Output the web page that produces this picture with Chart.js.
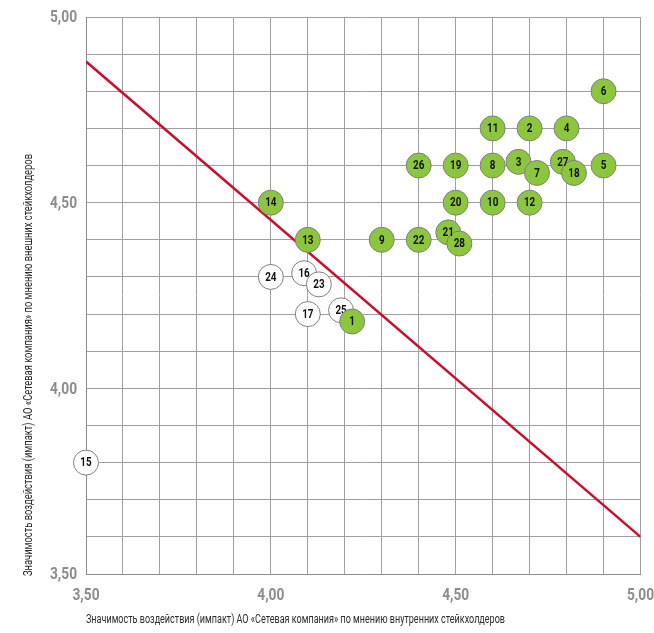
<!DOCTYPE html>
<html>
<head>
<meta charset="utf-8">
<script src="https://cdn.jsdelivr.net/npm/chart.js@4/dist/chart.umd.min.js"></script>
<style>
html,body{margin:0;padding:0;background:#fff;overflow:hidden;}
#wrap{position:relative;width:654px;height:633px;}
</style>
</head>
<body>
<div id="wrap"><canvas id="c"></canvas></div>
<script>
// Green (high impact) stakeholder points, in drawing order
const greenLabels = ['1','2','3','4','5','6','7','8','9','10','11','12','13','14','27','18','19','20','21','22','26','28'];
const greenX = [4.22,4.70,4.67,4.80,4.90,4.90,4.72,4.60,4.30,4.60,4.60,4.70,4.10,4.00,4.79,4.82,4.50,4.50,4.48,4.40,4.40,4.51];
const greenY = [4.18,4.70,4.61,4.70,4.60,4.80,4.58,4.60,4.40,4.50,4.70,4.50,4.40,4.50,4.61,4.58,4.60,4.50,4.42,4.40,4.60,4.39];
// White (below threshold) points
const whiteLabels = ['24','15','17','16','23','25'];
const whiteX = [4.00,3.50,4.10,4.09,4.13,4.19];
const whiteY = [4.30,3.80,4.20,4.31,4.28,4.21];
// Threshold line endpoints
const lineX = [3.50,5.00];
const lineY = [4.88,3.60];
// Axis
const axisMin = 3.5, axisMax = 5.0, gridStep = 0.1;
const xTitle = 'Значимость воздействия (импакт) АО «Сетевая компания» по мнению внутренних стейкхолдеров';
const yTitle = 'Значимость воздействия (импакт) АО «Сетевая компания» по мнению внешних стейкхолдеров';

const FONT = "Roboto, 'Noto Sans', sans-serif";
const toPts = (xs, ys) => xs.map((x, i) => ({x, y: ys[i]}));
const fmt = v => {
  const h = v * 2;
  return Math.abs(h - Math.round(h)) < 1e-6 ? v.toFixed(2).replace('.', ',') : '';
};

// draw horizontally condensed text
function narrowText(ctx, text, x, y, sx, align) {
  ctx.save();
  ctx.translate(x, y);
  ctx.scale(sx, 1);
  ctx.textAlign = align;
  ctx.fillText(text, 0, 0);
  ctx.restore();
}

const labelPlugin = {
  id: 'pointLabels',
  afterDatasetDraw(chart, args) {
    const ds = chart.data.datasets[args.index];
    if (!ds.pointTexts) return;
    const ctx = chart.ctx;
    ctx.save();
    ctx.font = "bold 13px " + FONT;
    ctx.fillStyle = '#111';
    ctx.textBaseline = 'middle';
    args.meta.data.forEach((el, i) => {
      narrowText(ctx, ds.pointTexts[i], el.x, el.y + 0.5, 0.76, 'center');
    });
    ctx.restore();
  }
};

const axisTextPlugin = {
  id: 'axisText',
  afterDraw(chart) {
    const ctx = chart.ctx;
    const xs = chart.scales.x, ys = chart.scales.y;
    ctx.save();
    ctx.fillStyle = '#8c8c8c';
    ctx.font = "bold 17px " + FONT;
    ctx.textBaseline = 'middle';
    const tickScale = 27 / ctx.measureText('4,50').width;
    xs.ticks.forEach(t => {
      const s = fmt(t.value);
      if (s) narrowText(ctx, s, xs.getPixelForValue(t.value), xs.bottom + 22, tickScale, 'center');
    });
    ys.ticks.forEach(t => {
      const s = fmt(t.value);
      if (s) narrowText(ctx, s, ys.left - 9, ys.getPixelForValue(t.value) + 1, tickScale, 'right');
    });
    // axis titles
    ctx.fillStyle = '#2a2a2a';
    ctx.font = "12px " + FONT;
    const xw = ctx.measureText(xTitle).width;
    narrowText(ctx, xTitle, xs.left, 620, 419 / xw, 'left');
    const yw = ctx.measureText(yTitle).width;
    ctx.save();
    ctx.translate(29, ys.bottom + 2);
    ctx.rotate(-Math.PI / 2);
    narrowText(ctx, yTitle, 0, 0, 422 / yw, 'left');
    ctx.restore();
    ctx.restore();
  }
};

new Chart(document.getElementById('c'), {
  type: 'scatter',
  data: {
    datasets: [
      {
        data: toPts(greenX, greenY),
        pointTexts: greenLabels,
        backgroundColor: '#8cc63f',
        borderColor: '#7f7f7f',
        borderWidth: 1,
        pointRadius: 12.5,
        pointHoverRadius: 12.5,
        clip: false,
        order: 0
      },
      {
        data: toPts(whiteX, whiteY),
        pointTexts: whiteLabels,
        backgroundColor: '#ffffff',
        borderColor: '#7f7f7f',
        borderWidth: 1,
        pointRadius: 12.5,
        pointHoverRadius: 12.5,
        clip: false,
        order: 1
      },
      {
        type: 'line',
        data: toPts(lineX, lineY),
        borderColor: '#c8102e',
        borderWidth: 2.5,
        pointRadius: 0,
        fill: false,
        order: 2
      }
    ]
  },
  options: {
    responsive: true,
    maintainAspectRatio: false,
    animation: false,
    events: [],
    layout: {padding: {top: 17, right: 5, left: 86, bottom: 59}},
    plugins: {legend: {display: false}, tooltip: {enabled: false}},
    scales: {
      x: {
        type: 'linear', min: axisMin, max: axisMax,
        ticks: {stepSize: gridStep, autoSkip: false, display: false},
        grid: {color: '#a0a0a0', lineWidth: 1, drawTicks: false},
        border: {display: true, color: '#8c8c8c'}
      },
      y: {
        type: 'linear', min: axisMin, max: axisMax,
        ticks: {stepSize: gridStep, autoSkip: false, display: false},
        grid: {color: '#a0a0a0', lineWidth: 1, drawTicks: false},
        border: {display: true, color: '#8c8c8c'}
      }
    }
  },
  plugins: [labelPlugin, axisTextPlugin]
});
</script>
</body>
</html>
